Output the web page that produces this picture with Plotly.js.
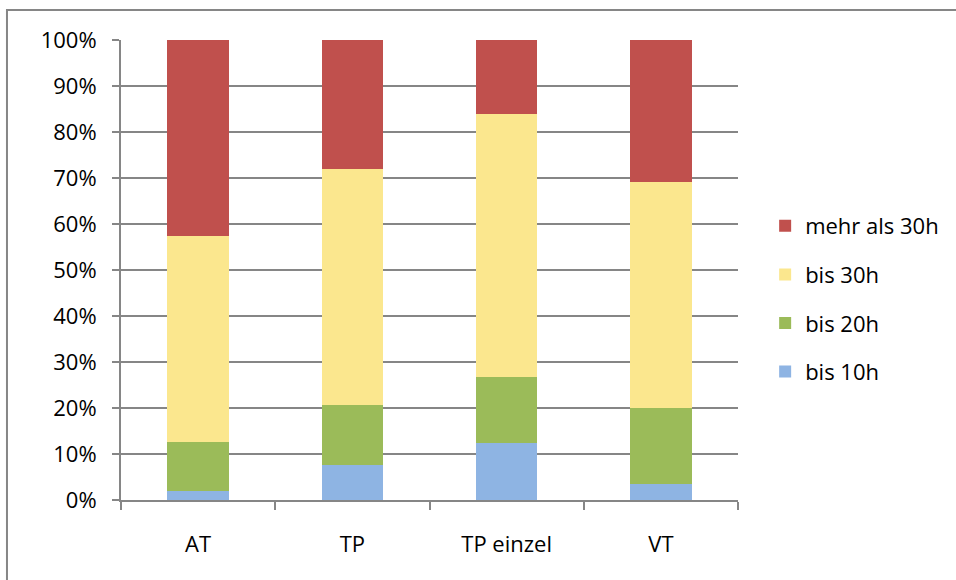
<!DOCTYPE html>
<html><head><meta charset="utf-8">
<script src="https://cdn.plot.ly/plotly-3.0.1.min.js"></script>
<style>body{margin:0;background:#fff}#chart{width:956px;height:580px}</style>
</head><body><div id="chart"></div>
<script>
const categories = ["AT", "TP", "TP einzel", "VT"];
const bis10 = [1.9, 7.7, 12.4, 3.5];
const bis20 = [10.8, 12.9, 14.4, 16.5];
const bis30 = [44.7, 51.3, 57.1, 49.1];
const mehr30 = [42.6, 28.1, 16.1, 30.9];
const seriesNames = ["bis 10h", "bis 20h", "bis 30h", "mehr als 30h"];
const colors = ["#8EB4E3", "#9BBB59", "#FBE78E", "#C0504D"];
const yTickVals = [0,10,20,30,40,50,60,70,80,90,100];
const yTickText = ["0%","10%","20%","30%","40%","50%","60%","70%","80%","90%","100%"];

const series = [bis10, bis20, bis30, mehr30];
const traces = series.map((vals, i) => ({
  type: "bar", x: categories, y: vals, name: seriesNames[i],
  legendgroup: "g" + i, legendrank: 10 - i,
  marker: {color: colors[i], line: {width: 0}},
  hoverinfo: "none"
}));

const font = {family: "Open Sans, Liberation Sans, sans-serif", size: 22, color: "#000"};
const layout = {
  width: 956, height: 580,
  margin: {l: 121, r: 218, t: 40, b: 80},
  paper_bgcolor: "#fff", plot_bgcolor: "#fff",
  barmode: "stack", bargap: 0.6,
  font: font,
  showlegend: true,
  legend: {x: 1.044, xanchor: "left", y: 0.437, yanchor: "middle",
           traceorder: "grouped", tracegroupgap: 17,
           font: font, itemwidth: 30, bgcolor: "rgba(0,0,0,0)"},
  xaxis: {type: "category", showgrid: false, showline: true, linecolor: "#868686", linewidth: 2,
          ticks: "outside", tickson: "boundaries", ticklen: 8, tickcolor: "#868686", tickwidth: 2,
          ticklabelstandoff: 24, tickfont: font, fixedrange: true},
  yaxis: {range: [0, 100], tickvals: yTickVals, ticktext: yTickText,
          showgrid: true, gridcolor: "#868686", gridwidth: 2,
          showline: true, linecolor: "#868686", linewidth: 2,
          ticks: "outside", ticklen: 7, tickcolor: "#868686", tickwidth: 2,
          ticklabelstandoff: 11, tickfont: font, zeroline: false, fixedrange: true},
  shapes: [{type: "rect", xref: "paper", yref: "paper",
            x0: -0.1848, x1: 1.6, y0: -0.4, y1: 1.065,
            line: {color: "#868686", width: 2}, fillcolor: "rgba(0,0,0,0)", layer: "below"}]
};
Plotly.newPlot("chart", traces, layout, {displayModeBar: false, staticPlot: true});
</script></body></html>
